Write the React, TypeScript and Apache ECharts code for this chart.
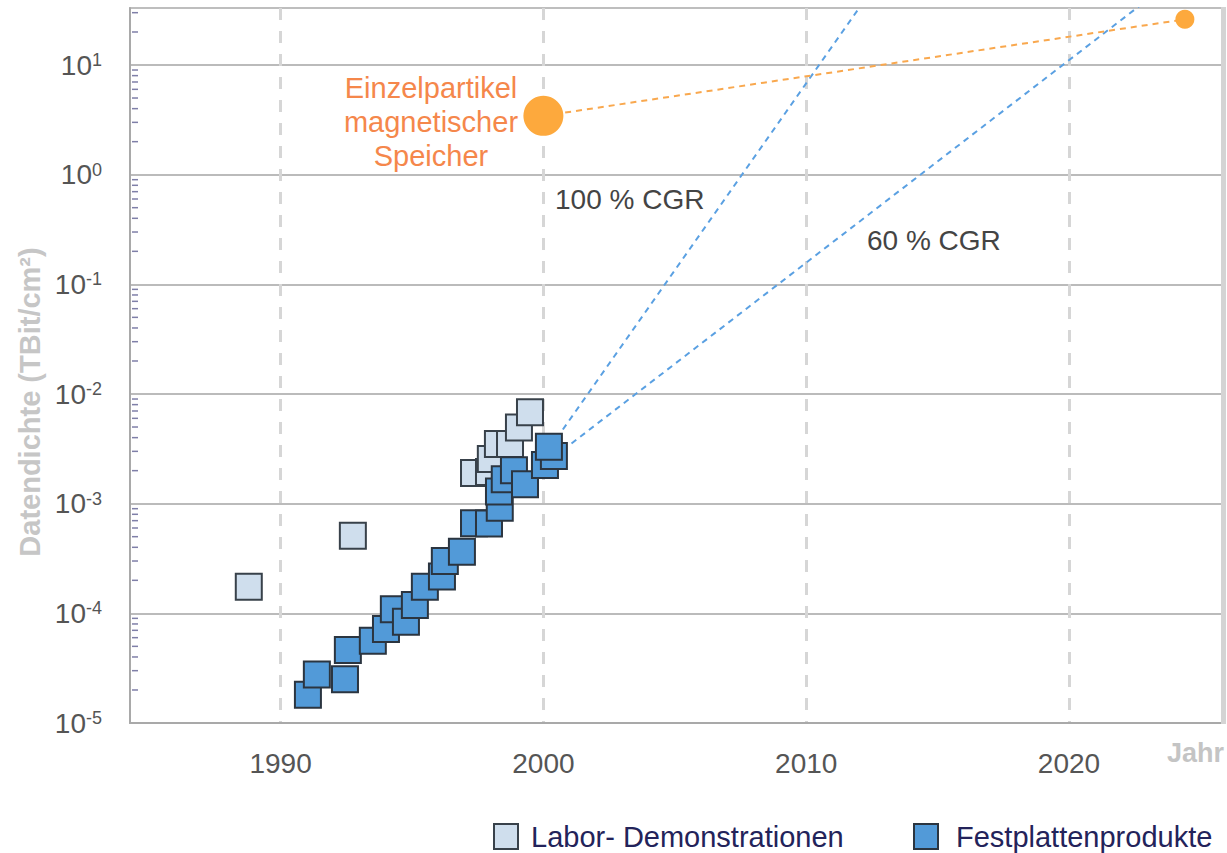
import React, { useEffect, useRef } from 'react';
import * as echarts from 'echarts';

// ---------- data ----------
const labYears = [1988.79, 1992.75, 1997.36, 1997.93, 1998.0, 1998.27, 1998.73, 1999.07, 1999.49];
const labValues = [1.75e-4, 5.1e-4, 1.9e-3, 1.94e-3, 2.55e-3, 3.5e-3, 3.5e-3, 4.95e-3, 6.8e-3];

const hddYears = [
  1991.04, 1991.38, 1992.45, 1992.56, 1993.51, 1994.01, 1994.31, 1994.77, 1995.11, 1995.49,
  1996.14, 1996.25, 1996.9, 1997.36, 1997.93, 1998.34, 1998.31, 1998.53, 1998.88, 1999.3,
  2000.06, 2000.4, 2000.21,
];
const hddValues = [
  1.81e-5, 2.77e-5, 2.51e-5, 4.64e-5, 5.62e-5, 7.2e-5, 1.09e-4, 8.4e-5, 1.19e-4, 1.75e-4,
  2.17e-4, 3.0e-4, 3.64e-4, 6.64e-4, 6.6e-4, 9.2e-4, 1.29e-3, 1.67e-3, 2.02e-3, 1.5e-3,
  2.25e-3, 2.72e-3, 3.3e-3,
];

const cgr100Years = [2000.74, 2012.2];
const cgr100Values = [4.75e-3, 38.3];
const cgr60Years = [2001.07, 2023.0];
const cgr60Values = [3.54e-3, 39.6];

const singleParticleYears = [2000.0, 2024.41];
const singleParticleValues = [3.44, 26.1];

const xTickYears = [1990, 2000, 2010, 2020];
const seriesNames = ['Labor- Demonstrationen', 'Festplattenprodukte'];

// axis extents
const X_MIN = 1984.27;
const X_MAX = 2025.86;
const Y_MIN = 1e-5;
const Y_MAX = 33.1;

// minor tick positions on the log axis (2..9 within each decade)
const minorTicks: number[] = [];
for (let d = -5; d <= 1; d++) {
  for (let k = 2; k <= 9; k++) {
    const v = k * Math.pow(10, d);
    if (v < Y_MAX) minorTicks.push(v);
  }
}

const FONT = '"Liberation Sans", Arial, Helvetica, sans-serif';

const zip = (xs: number[], ys: number[]) => xs.map((x, i) => [x, ys[i]]);

export default function App() {
  const ref = useRef<HTMLDivElement>(null);

  useEffect(() => {
    if (!ref.current) return;
    const chart = echarts.init(ref.current, null, { renderer: 'svg' });

    const legendText = { color: '#23235a', fontSize: 29, fontFamily: FONT };

    const option: any = {
      animation: false,
      backgroundColor: '#ffffff',
      grid: {
        left: 130,
        right: 4,
        top: 8,
        bottom: 130,
        show: true,
        borderColor: '#a9a9a9',
        borderWidth: 1.5,
      },
      legend: [
        {
          data: [seriesNames[0]],
          left: 488,
          top: 817,
          itemWidth: 24,
          itemHeight: 25,
          icon: 'rect',
          textStyle: { ...legendText, padding: [0, 0, 0, 8] },
        },
        {
          data: [seriesNames[1]],
          left: 908,
          top: 817,
          itemWidth: 24,
          itemHeight: 25,
          icon: 'rect',
          textStyle: { ...legendText, padding: [0, 0, 0, 13] },
        },
      ],
      xAxis: {
        type: 'value',
        min: X_MIN,
        max: X_MAX,
        splitNumber: 5,
        axisLine: { show: true, onZero: false, lineStyle: { color: '#a9a9a9', width: 2 } },
        axisTick: { show: false },
        axisLabel: {
          color: '#555555',
          fontSize: 28,
          fontFamily: FONT,
          margin: 26,
          formatter: (v: number) => (xTickYears.some((t) => Math.abs(t - v) < 1e-6) ? String(Math.round(v)) : ''),
        },
        splitLine: {
          show: true,
          showMinLine: false,
          showMaxLine: false,
          lineStyle: { color: '#d6d6d6', width: 3, type: [12, 11] },
        },
      },
      yAxis: {
        type: 'log',
        logBase: 10,
        min: Y_MIN,
        max: Y_MAX,
        axisLine: { show: true, lineStyle: { color: '#a9a9a9', width: 2 } },
        axisTick: { show: false },
        axisLabel: {
          margin: 28,
          formatter: (v: number) => {
            const l = Math.log10(v);
            const e = Math.round(l);
            if (Math.abs(l - e) > 0.02) return '';
            return `{b|10}{s|${e}}`;
          },
          rich: {
            b: { fontSize: 28, color: '#555555', fontFamily: FONT, verticalAlign: 'bottom' },
            s: { fontSize: 18, color: '#555555', fontFamily: FONT, verticalAlign: 'top' },
          },
        },
        splitLine: {
          show: true,
          showMaxLine: false,
          lineStyle: { color: '#a5a5a5', width: 1.5 },
        },
      },
      graphic: [
        {
          type: 'rect',
          z: 10,
          shape: { x: 1221, y: 7, width: 5, height: 717 },
          style: { fill: '#d4d4d4' },
        },
        {
          type: 'text',
          x: 431,
          y: 122,
          style: {
            text: 'Einzelpartikel\nmagnetischer\nSpeicher',
            fill: '#f5874b',
            font: `29px ${FONT}`,
            lineHeight: 34,
            align: 'center',
            verticalAlign: 'middle',
          },
        },
        {
          type: 'text',
          x: 555,
          y: 199,
          style: { text: '100 % CGR', fill: '#444444', font: `28px ${FONT}`, align: 'left', verticalAlign: 'middle' },
        },
        {
          type: 'text',
          x: 867,
          y: 240,
          style: { text: '60 % CGR', fill: '#444444', font: `28px ${FONT}`, align: 'left', verticalAlign: 'middle' },
        },
        {
          type: 'text',
          x: 1224,
          y: 753,
          style: { text: 'Jahr', fill: '#c4c4c4', font: `bold 27px ${FONT}`, align: 'right', verticalAlign: 'middle' },
        },
        {
          type: 'text',
          x: 30,
          y: 402,
          rotation: Math.PI / 2,
          style: {
            text: 'Datendichte (TBit/cm²)',
            fill: '#c6c6c6',
            font: `bold 29px ${FONT}`,
            align: 'center',
            verticalAlign: 'middle',
          },
        },
      ],
      series: [
        {
          type: 'custom',
          silent: true,
          z: 5,
          clip: false,
          data: minorTicks.map((v) => [X_MIN, v]),
          encode: { x: 0, y: 1 },
          renderItem: (_params: any, api: any) => {
            const p = api.coord([api.value(0), api.value(1)]);
            return {
              type: 'line',
              shape: { x1: p[0] + 2, y1: p[1], x2: p[0] + 8, y2: p[1] },
              style: { stroke: '#7f7fa8', lineWidth: 1.5 },
            };
          },
        },
        {
          type: 'line',
          name: '100 % CGR',
          data: zip(cgr100Years, cgr100Values),
          symbol: 'none',
          z: 2,
          lineStyle: { color: '#5aa0e2', width: 2, type: [6, 5] },
        },
        {
          type: 'line',
          name: '60 % CGR',
          data: zip(cgr60Years, cgr60Values),
          symbol: 'none',
          z: 2,
          lineStyle: { color: '#5aa0e2', width: 2, type: [6, 5] },
        },
        {
          type: 'line',
          name: 'Einzelpartikel-Trend',
          data: zip(singleParticleYears, singleParticleValues),
          symbol: 'none',
          z: 2,
          lineStyle: { color: '#f9a84e', width: 2, type: [6, 5] },
        },
        {
          type: 'scatter',
          name: 'Einzelpartikel magnetischer Speicher',
          z: 3,
          data: [
            { value: [singleParticleYears[0], singleParticleValues[0]], symbolSize: 40 },
            { value: [singleParticleYears[1], singleParticleValues[1]], symbolSize: 19 },
          ],
          symbol: 'circle',
          itemStyle: { color: '#fda93d', opacity: 1 },
        },
        {
          type: 'scatter',
          name: seriesNames[0],
          z: 4,
          symbol: 'rect',
          symbolSize: 26,
          data: zip(labYears, labValues),
          itemStyle: { color: '#cfdeed', borderColor: '#38414a', borderWidth: 2, opacity: 1 },
        },
        {
          type: 'scatter',
          name: seriesNames[1],
          z: 4,
          symbol: 'rect',
          symbolSize: 26,
          data: zip(hddYears, hddValues),
          itemStyle: { color: '#529ad8', borderColor: '#2b3540', borderWidth: 2, opacity: 1 },
        },
      ],
    };

    chart.setOption(option);
    return () => chart.dispose();
  }, []);

  return (
    <div
      ref={ref}
      style={{ position: 'fixed', left: 0, top: 0, width: 1227, height: 853 }}
    />
  );
}
